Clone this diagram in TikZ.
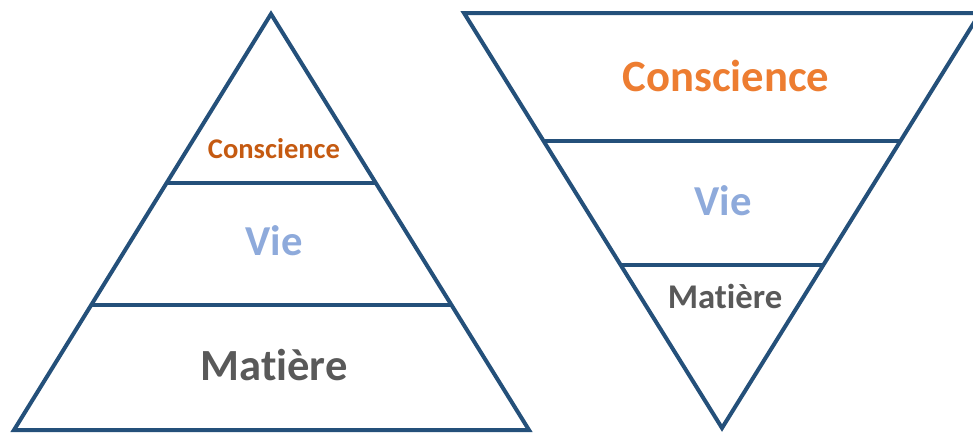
\documentclass[tikz,border=0pt]{standalone}
\usepackage{fontspec}
\setmainfont{Carlito}[Ligatures={NoCommon}]
\usepackage{tikz}
\usetikzlibrary{calc}
\definecolor{garis}{HTML}{24507A}
\definecolor{oranye}{HTML}{ED7D31}
\definecolor{oranyetua}{HTML}{C55A11}
\definecolor{biru}{HTML}{8EAADB}
\definecolor{abu}{HTML}{595959}
\tikzstyle{sisi} = [line width=3pt, draw=garis]
\tikzstyle{teks} = [inner sep=0pt, font=\bfseries]

\begin{document}
\begin{tikzpicture}[x=0.75pt, y=-0.75pt]
			\useasboundingbox (0,0) rectangle (973,432);
			\clip (0,0) rectangle (973,432);
			% piramida kiri
			\coordinate (puncak) at (271,14);                   % titik atas
			\coordinate (kiri) at (14,430);                     % kiri bawah
			\coordinate (kanan) at (529,430);                   % kanan bawah
			\coordinate (ka1) at ($(puncak)!0.406!(kiri)$);
			\coordinate (kb1) at ($(puncak)!0.406!(kanan)$);
			\coordinate (ka2) at ($(puncak)!0.7!(kiri)$);
			\coordinate (kb2) at ($(puncak)!0.7!(kanan)$);
			\draw [sisi] (puncak) -- (kiri) -- (kanan) -- cycle;
			\draw [sisi] (ka1) -- (kb1);
			\draw [sisi] (ka2) -- (kb2);

			% piramida terbalik
			\coordinate (dasar) at (722,428);                   % titik bawah
			\coordinate (atkiri) at (464,13);                   % kiri atas
			\coordinate (atkanan) at (980,13);                  % kanan atas
			\coordinate (ta1) at ($(atkiri)!0.308!(dasar)$);
			\coordinate (tb1) at ($(atkanan)!0.308!(dasar)$);
			\coordinate (ta2) at ($(atkiri)!0.607!(dasar)$);
			\coordinate (tb2) at ($(atkanan)!0.607!(dasar)$);
			\draw [sisi] (dasar) -- (atkiri) -- (atkanan) -- cycle;
			\draw [sisi] (ta1) -- (tb1);
			\draw [sisi] (ta2) -- (tb2);

			% tulisan
			\node (kesadaran1) [teks, text=oranyetua, font=\bfseries\fontsize{21.4}{24}\selectfont] at (274,149) {Conscience};
			\node (hidup1) [teks, text=biru, font=\bfseries\fontsize{32}{36}\selectfont] at (274,241) {Vie};
			\node (materi1) [teks, text=abu, font=\bfseries\fontsize{33.4}{38}\selectfont] at (274,365) {Matière};
			\node (kesadaran2) [teks, text=oranye, font=\bfseries\fontsize{33.5}{38}\selectfont] at (726,76) {Conscience};
			\node (hidup2) [teks, text=biru, font=\bfseries\fontsize{32}{36}\selectfont] at (723,201) {Vie};
			\node (materi2) [teks, text=abu, font=\bfseries\fontsize{26}{30}\selectfont] at (725,296) {Matière};
		\end{tikzpicture}
\end{document}
